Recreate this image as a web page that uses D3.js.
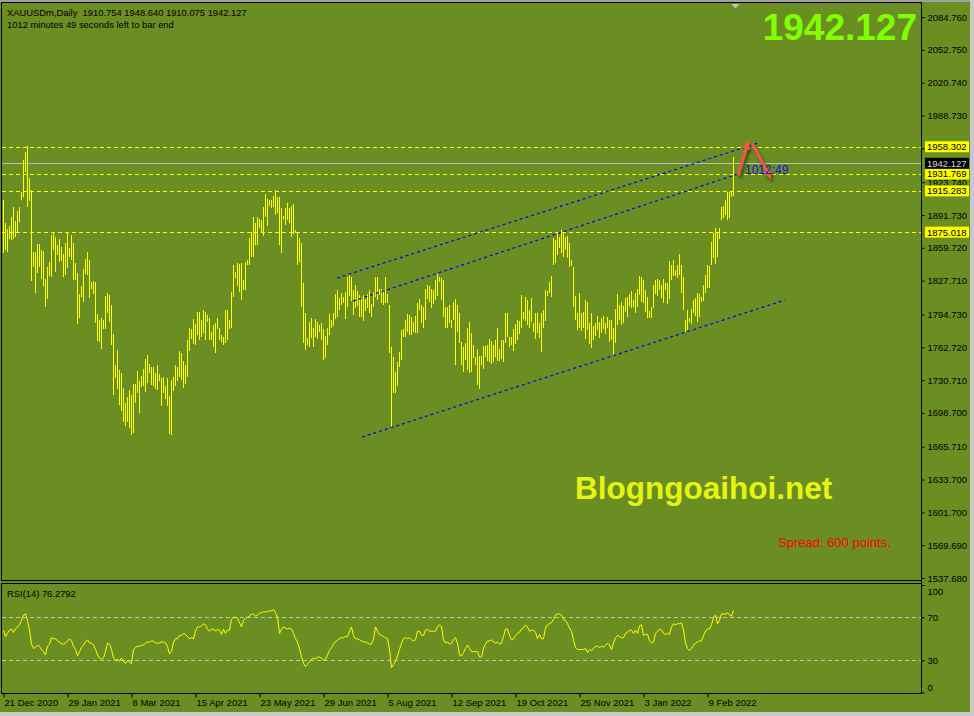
<!DOCTYPE html>
<html>
<head>
<meta charset="UTF-8">
<title>XAUUSDm Daily</title>
<style>
  body { margin: 0; overflow: hidden; background: #6b8e23; }
  svg { display: block; }
  text { font-family: "Liberation Sans", Arial, sans-serif; }
</style>
<script src="https://cdnjs.cloudflare.com/ajax/libs/d3/7.8.5/d3.min.js"></script>
</head>
<body>
<div id="chart"></div>
<script>
// ---- data ----
const symbol = "XAUUSDm,Daily";
const lastBar = {open: 1910.754, high: 1948.640, low: 1910.075, close: 1942.127};
const timeLeft = {minutes: 1012, seconds: 49};
const spreadPoints = 600;

const highs = [
  1906,1884,1878,1881,1890,1900,1886,1896,1900,1914,
  1945,1953,1959,1928,1916,1856,1856,1863,1863,1858,
  1857,1829,1841,1846,1872,1875,1870,1862,1868,1861,
  1854,1864,1875,1860,1872,1864,1845,1835,1815,1822,
  1839,1849,1856,1848,1826,1827,1826,1795,1789,1791,
  1789,1813,1816,1814,1804,1776,1745,1760,1741,1738,
  1723,1708,1714,1721,1716,1727,1727,1740,1730,1735,
  1742,1751,1755,1746,1743,1743,1738,1745,1737,1733,
  1734,1725,1733,1715,1731,1734,1745,1743,1759,1757,
  1749,1745,1770,1782,1781,1790,1785,1797,1797,1789,
  1799,1797,1794,1791,1778,1784,1786,1791,1782,1775,
  1773,1799,1799,1789,1817,1843,1836,1845,1844,1845,
  1828,1846,1848,1869,1875,1890,1884,1890,1888,1887,
  1900,1912,1907,1906,1906,1910,1916,1909,1909,1899,
  1891,1899,1903,1899,1901,1902,1877,1874,1869,1864,
  1825,1796,1772,1787,1791,1782,1790,1787,1784,1786,
  1781,1774,1782,1795,1789,1796,1815,1819,1811,1816,
  1812,1817,1831,1834,1831,1819,1823,1818,1814,1812,
  1814,1810,1815,1819,1805,1817,1831,1831,1820,1820,
  1819,1831,1815,1804,1763,1753,1739,1748,1758,1780,
  1781,1789,1795,1794,1792,1787,1793,1806,1810,1804,
  1802,1820,1823,1822,1820,1819,1828,1834,1831,1830,
  1828,1802,1802,1804,1789,1807,1810,1804,1796,1768,
  1763,1767,1782,1787,1777,1765,1753,1761,1754,1754,
  1764,1764,1765,1771,1769,1765,1770,1782,1761,1770,
  1770,1796,1796,1773,1773,1781,1785,1789,1788,1814,
  1797,1812,1809,1799,1811,1786,1796,1796,1786,1796,
  1799,1819,1818,1826,1832,1869,1867,1875,1870,1877,
  1875,1870,1871,1864,1848,1841,1813,1796,1816,1796,
  1797,1809,1807,1786,1796,1783,1786,1793,1787,1791,
  1793,1786,1792,1789,1789,1782,1800,1815,1804,1807,
  1803,1811,1812,1815,1818,1809,1816,1820,1832,1831,
  1828,1819,1812,1798,1802,1823,1828,1829,1828,1823,
  1829,1825,1825,1847,1843,1848,1838,1843,1854,1843,
  1831,1789,1799,1791,1800,1809,1811,1816,1815,1812,
  1823,1833,1843,1842,1865,1874,1879,1874,1879,1900,
  1901,1906,1914,1914,1914,1948.64
];
const lows = [
  1855,1858,1856,1868,1867,1868,1870,1874,1885,1906,
  1909,1934,1900,1905,1827,1841,1816,1835,1841,1829,
  1822,1802,1810,1832,1831,1858,1836,1853,1846,1847,
  1831,1833,1840,1851,1848,1828,1828,1785,1791,1812,
  1807,1834,1833,1811,1820,1815,1786,1769,1768,1761,
  1781,1781,1796,1787,1765,1716,1733,1722,1706,1701,
  1690,1686,1690,1684,1677,1679,1708,1718,1699,1724,
  1725,1719,1728,1738,1726,1725,1722,1721,1730,1705,
  1718,1712,1705,1678,1677,1720,1725,1730,1734,1731,
  1723,1727,1734,1759,1771,1766,1765,1775,1770,1773,
  1777,1770,1787,1770,1770,1763,1757,1781,1770,1768,
  1765,1767,1770,1781,1782,1812,1830,1822,1817,1809,
  1819,1819,1843,1843,1851,1851,1862,1862,1879,1874,
  1871,1890,1881,1901,1899,1900,1892,1894,1862,1855,
  1888,1882,1887,1884,1870,1873,1874,1843,1846,1802,
  1767,1760,1765,1763,1772,1763,1773,1771,1778,1770,
  1750,1752,1765,1775,1782,1783,1790,1792,1799,1804,
  1806,1790,1802,1813,1808,1794,1801,1803,1792,1792,
  1788,1798,1801,1796,1792,1802,1812,1809,1814,1806,
  1804,1806,1806,1757,1685,1718,1718,1725,1743,1750,
  1773,1773,1778,1775,1775,1778,1777,1777,1799,1786,
  1782,1789,1810,1807,1801,1805,1809,1813,1826,1809,
  1792,1782,1782,1786,1782,1789,1745,1778,1767,1745,
  1739,1750,1741,1738,1739,1752,1745,1726,1722,1745,
  1742,1753,1749,1748,1746,1748,1753,1749,1749,1751,
  1748,1767,1773,1763,1765,1759,1766,1770,1776,1782,
  1790,1788,1784,1782,1787,1778,1771,1777,1772,1758,
  1782,1788,1813,1816,1812,1843,1845,1853,1860,1855,
  1851,1858,1850,1841,1842,1802,1789,1780,1782,1779,
  1782,1771,1780,1766,1762,1770,1774,1780,1772,1777,
  1781,1776,1782,1768,1770,1754,1767,1784,1789,1784,
  1786,1797,1792,1803,1801,1802,1796,1802,1814,1807,
  1806,1797,1791,1791,1791,1801,1815,1813,1819,1811,
  1806,1819,1805,1810,1828,1832,1832,1830,1833,1816,
  1799,1778,1780,1787,1785,1796,1793,1787,1792,1807,
  1808,1816,1821,1821,1843,1850,1844,1851,1868,1887,
  1889,1892,1887,1889,1909,1910.075
];
const rsi = [
  58,52,55,58,59,56,59,61,63,67,
  72,73,67,58,45,41,42,44,43,40,
  38,35,43,45,51,50,50,48,47,45,
  45,46,48,50,48,43,40,34,38,42,
  44,47,49,46,46,44,40,35,32,31,
  32,38,46,45,40,32,30,31,29,32,
  29,27,30,28,27,40,42,43,43,44,
  44,46,47,47,48,48,46,46,46,47,
  47,46,43,36,38,47,50,50,53,53,
  55,54,52,50,51,50,57,61,61,62,
  64,63,59,57,59,59,57,59,58,54,
  59,55,58,58,68,70,70,69,65,61,
  67,69,70,71,73,73,71,72,74,74,
  75,75,75,76,76,77,74,70,55,59,
  61,60,59,60,59,55,50,47,41,33,
  27,24,26,29,31,32,31,33,33,32,
  30,31,35,39,42,45,47,49,50,51,
  51,52,52,57,61,53,50,50,49,48,
  47,47,46,45,45,50,61,57,54,53,
  52,51,50,40,23,26,29,34,40,46,
  50,51,50,51,49,48,49,57,57,53,
  53,58,59,57,57,57,57,61,63,61,
  49,46,47,45,46,49,51,46,35,34,
  37,41,44,41,38,38,38,38,33,33,
  41,45,48,48,49,47,46,47,45,46,
  52,59,59,53,49,50,53,55,56,59,
  60,63,61,57,58,58,56,50,54,50,
  50,60,63,64,65,68,72,73,73,72,
  68,67,64,60,57,49,42,40,40,40,
  40,41,37,40,39,41,43,43,42,43,
  42,44,46,44,40,46,51,53,52,51,
  51,55,56,58,58,55,58,55,62,63,
  53,54,54,48,46,47,55,57,59,58,
  55,54,55,54,61,64,63,64,64,65,
  58,46,41,39,41,44,46,47,48,48,
  53,57,59,59,63,70,72,64,67,73,
  73,73,74,72,71,76.2792
];
const rsiPeriod = 14;

const dateLabels = ["21 Dec 2020", "29 Jan 2021", "8 Mar 2021", "15 Apr 2021", "23 May 2021", "29 Jun 2021",
  "5 Aug 2021", "12 Sep 2021", "19 Oct 2021", "25 Nov 2021", "3 Jan 2022", "9 Feb 2022"];
const dateLabelStep = 32; // bars between date labels

const priceTicks = [2084.760, 2052.750, 2020.740, 1988.730, 1956.720, 1923.740, 1891.730, 1859.720,
  1827.710, 1794.730, 1762.720, 1730.710, 1698.700, 1665.710, 1633.700, 1601.700, 1569.690, 1537.680];
const rsiTicks = [100, 70, 30, 0];
const rsiLevels = [70, 30];
const levels = [1958.302, 1931.769, 1915.283, 1875.018];

// channel lines and arrows, anchored on bar index and price
const trendLines = [
  {i1: 167, p1: 1830.3, i2: 377.5, p2: 1961.9},
  {i1: 175, p1: 1807.8, i2: 367.5, p2: 1931.7},
  {i1: 179.5, p1: 1675.2, i2: 391, p2: 1808.8}
];
const arrows = [
  {i1: 367.5, p1: 1930.7, i2: 372.5, p2: 1962.5},
  {i1: 374.5, p1: 1962.0, i2: 383.5, p2: 1928.8}
];

// ---- layout ----
const W = 974, H = 716;
const panel = {left: 1.5, top: 2.5, right: 921.5, bottom: 580.5};
const rsiPanel = {top: 583.5, bottom: 693.5};

const svg = d3.select("#chart").append("svg").attr("width", W).attr("height", H);
const defs = svg.append("defs");

svg.append("rect").attr("width", W).attr("height", H).attr("fill", "#6b8e23");
svg.append("rect").attr("x", 0).attr("y", 0).attr("width", W).attr("height", 2).attr("fill", "#a0a0a0");
svg.append("rect").attr("x", 970).attr("y", 0).attr("width", 4).attr("height", H).attr("fill", "#c8c8c8");
svg.append("rect").attr("x", 0).attr("y", 712).attr("width", W).attr("height", 4).attr("fill", "#c8c8c8");

const x = d3.scaleLinear().domain([0, 458]).range([3, 919]);
const y = d3.scaleLinear().domain([1537.68, 2084.76]).range([578, 17.1]);
const yr = d3.scaleLinear().domain([0, 100]).range([692.5, 585]);
const px = v => Math.round(v) + 0.5;

defs.append("clipPath").attr("id", "clip-main").append("rect")
  .attr("x", 2).attr("y", 3).attr("width", 919).attr("height", 577);
defs.append("clipPath").attr("id", "clip-rsi").append("rect")
  .attr("x", 2).attr("y", 584).attr("width", 919).attr("height", 109);

const shadow = defs.append("filter").attr("id", "shadow")
  .attr("x", "-50%").attr("y", "-50%").attr("width", "200%").attr("height", "200%");
shadow.append("feDropShadow").attr("dx", 2).attr("dy", 3).attr("stdDeviation", 1.6)
  .attr("flood-color", "#2e4a0c").attr("flood-opacity", 0.9);

defs.append("marker").attr("id", "head")
  .attr("viewBox", "0 0 10 8").attr("refX", 7).attr("refY", 4)
  .attr("markerWidth", 10).attr("markerHeight", 8)
  .attr("markerUnits", "userSpaceOnUse").attr("orient", "auto")
  .append("path").attr("d", "M0,0L10,4L0,8Z").attr("fill", "#f0564a");

const main = svg.append("g").attr("clip-path", "url(#clip-main)");

// horizontal levels
main.selectAll("line.level").data(levels).join("line")
  .attr("class", "level")
  .attr("x1", 2).attr("x2", 921)
  .attr("y1", d => px(y(d))).attr("y2", d => px(y(d)))
  .attr("stroke", "#ffff00").attr("stroke-dasharray", "4,3");

// bid line
main.append("line")
  .attr("x1", 2).attr("x2", 921)
  .attr("y1", px(y(lastBar.close))).attr("y2", px(y(lastBar.close)))
  .attr("stroke", "#c0c0c0");

// bars
main.append("g").selectAll("line").data(highs).join("line")
  .attr("x1", (d, i) => px(x(i))).attr("x2", (d, i) => px(x(i)))
  .attr("y1", d => Math.round(y(d)))
  .attr("y2", (d, i) => Math.max(Math.round(y(lows[i])), Math.round(y(d)) + 2))
  .attr("stroke", "#ffff00").attr("stroke-width", 1)
  .attr("shape-rendering", "crispEdges");

// channel
main.selectAll("line.trend").data(trendLines).join("line")
  .attr("class", "trend")
  .attr("x1", d => x(d.i1)).attr("y1", d => y(d.p1))
  .attr("x2", d => x(d.i2)).attr("y2", d => y(d.p2))
  .attr("stroke", "#0000ff").attr("stroke-width", 1.2)
  .attr("stroke-dasharray", "3,3");

// arrows
main.selectAll("line.arrow").data(arrows).join("line")
  .attr("class", "arrow")
  .attr("x1", d => x(d.i1)).attr("y1", d => y(d.p1))
  .attr("x2", d => x(d.i2)).attr("y2", d => y(d.p2))
  .attr("stroke", "#f0564a").attr("stroke-width", 3)
  .attr("marker-end", "url(#head)")
  .attr("filter", "url(#shadow)");

// time left label next to the last bar
main.append("text")
  .attr("x", x(highs.length - 1) + 12).attr("y", y(lastBar.close) + 11)
  .attr("font-size", 12).attr("fill", "#1414d2")
  .text(`${timeLeft.minutes}:${timeLeft.seconds}`);

// RSI
const rsiG = svg.append("g").attr("clip-path", "url(#clip-rsi)");
rsiG.selectAll("line").data(rsiLevels).join("line")
  .attr("x1", 2).attr("x2", 921)
  .attr("y1", d => px(yr(d))).attr("y2", d => px(yr(d)))
  .attr("stroke", "#c0c0c0").attr("stroke-dasharray", "4,3");
rsiG.append("path")
  .attr("d", d3.line().x((d, i) => px(x(i))).y(d => yr(d))(rsi))
  .attr("fill", "none").attr("stroke", "#ffff00").attr("stroke-width", 1);

// panel frames
const frame = svg.append("g").attr("fill", "none").attr("stroke", "#000");
frame.append("path").attr("d",
  `M${panel.left},${panel.bottom}V${panel.top}H${panel.right}V${rsiPanel.bottom}H${panel.left}V${rsiPanel.top}H${panel.right}M${panel.left},${panel.bottom}H${panel.right}`);

// price axis
const yAxis = svg.append("g").attr("transform", `translate(${panel.right},0)`)
  .call(d3.axisRight(y).tickValues(priceTicks).tickFormat(d3.format(".3f")).tickSize(3).tickPadding(3));
yAxis.select(".domain").remove();
yAxis.selectAll("text").attr("font-size", 9.5).attr("fill", "#000").attr("font-family", "Liberation Sans, Arial, sans-serif");
yAxis.selectAll("line").attr("stroke", "#000");

// level price tags
const tags = svg.append("g");
levels.forEach(v => {
  tags.append("rect").attr("x", 925).attr("y", y(v) - 5.5).attr("width", 44).attr("height", 11).attr("fill", "#ffff00");
  tags.append("text").attr("x", 927).attr("y", y(v) + 3.5).attr("font-size", 9.5).attr("fill", "#000").text(v.toFixed(3));
});
tags.append("rect").attr("x", 925).attr("y", y(lastBar.close) - 5.5).attr("width", 44).attr("height", 11).attr("fill", "#000");
tags.append("text").attr("x", 927).attr("y", y(lastBar.close) + 3.5).attr("font-size", 9.5).attr("fill", "#d8d8d8")
  .text(lastBar.close.toFixed(3));

// rsi axis
const rAxis = svg.append("g").attr("transform", `translate(${panel.right},0)`)
  .call(d3.axisRight(yr).tickValues(rsiTicks).tickSize(3).tickPadding(3));
rAxis.select(".domain").remove();
rAxis.selectAll("line").attr("stroke", "#000");
rAxis.selectAll("text").attr("font-size", 9.5).attr("fill", "#000").attr("font-family", "Liberation Sans, Arial, sans-serif")
  .attr("transform", d => d === 100 ? "translate(0,6)" : d === 0 ? "translate(0,-5.5)" : null);

// time axis
const xAxis = svg.append("g").attr("transform", `translate(0,${rsiPanel.bottom})`)
  .call(d3.axisBottom(x).tickValues(dateLabels.map((d, i) => i * dateLabelStep))
    .tickFormat((d, i) => dateLabels[i]).tickSize(4).tickPadding(2));
xAxis.select(".domain").remove();
xAxis.selectAll("line").attr("stroke", "#000").attr("transform", "translate(0.5,0)");
xAxis.selectAll("text").attr("font-size", 9.5).attr("fill", "#000").attr("text-anchor", "start")
  .attr("font-family", "Liberation Sans, Arial, sans-serif").attr("dx", 1);

// shift marker
svg.append("path").attr("d", "M731.5,4L739.5,4L735.5,8.5Z").attr("fill", "#c0c0c0");

// header texts
const fmt = d3.format(".3f");
svg.append("text").attr("x", 7).attr("y", 15.5).attr("font-size", 9.4).attr("fill", "#000")
  .attr("xml:space", "preserve")
  .text(`${symbol}  ${fmt(lastBar.open)} ${fmt(lastBar.high)} ${fmt(lastBar.low)} ${fmt(lastBar.close)}`);
svg.append("text").attr("x", 7).attr("y", 28).attr("font-size", 9.4).attr("fill", "#000")
  .text(`${timeLeft.minutes} minutes ${timeLeft.seconds} seconds left to bar end`);
svg.append("text").attr("x", 7).attr("y", 596.5).attr("font-size", 9.4).attr("fill", "#000")
  .text(`RSI(${rsiPeriod}) ${rsi[rsi.length - 1].toFixed(4)}`);

// big price
svg.append("text").attr("x", 917).attr("y", 40).attr("text-anchor", "end")
  .attr("font-size", 37).attr("font-weight", "bold").attr("fill", "#80ff00")
  .text(fmt(lastBar.close));

// watermark + spread
svg.append("text").attr("x", 575).attr("y", 499).attr("font-size", 31.5).attr("font-weight", "bold")
  .attr("fill", "#e6f50f").text("Blogngoaihoi.net");
svg.append("text").attr("x", 778).attr("y", 547).attr("font-size", 13).attr("fill", "#ff0000")
  .text(`Spread: ${spreadPoints} points.`);
</script>
</body>
</html>
